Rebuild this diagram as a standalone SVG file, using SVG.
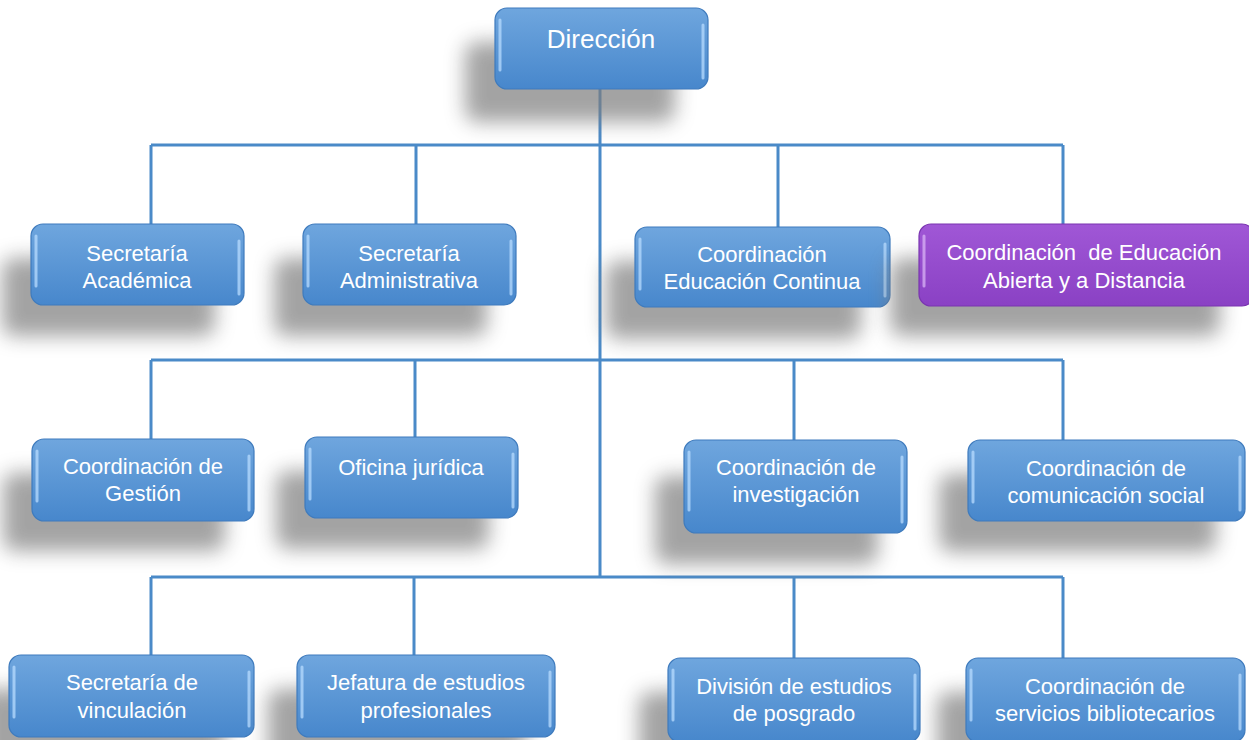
<svg xmlns="http://www.w3.org/2000/svg" width="1249" height="740" viewBox="0 0 1249 740">
<defs>
<linearGradient id="gb" x1="0" y1="0" x2="0" y2="1">
<stop offset="0" stop-color="#6fa6de"/><stop offset="1" stop-color="#4787cc"/>
</linearGradient>
<linearGradient id="gp" x1="0" y1="0" x2="0" y2="1">
<stop offset="0" stop-color="#a057d6"/><stop offset="1" stop-color="#8a41c4"/>
</linearGradient>
<filter id="sh" x="-30%" y="-50%" width="160%" height="200%">
<feGaussianBlur stdDeviation="10"/>
</filter>
<style>
.box{stroke:#3f7bbd;stroke-width:1.2}
.boxp{stroke:#7a35b0;stroke-width:1.2}
.shadow{fill:#7d7d7d;opacity:0.7;filter:url(#sh)}
.hl{stroke:#b8dcff;stroke-width:3;stroke-linecap:round;opacity:0.75}
.t{font-family:"Liberation Sans",Arial,sans-serif;font-size:22px;fill:#ffffff;text-anchor:middle;white-space:pre}
.conn{stroke:#4a8ac8;stroke-width:3;fill:none}
</style>
</defs>
<rect width="1249" height="740" fill="#ffffff"/>

<g id="connectors">
<path class="conn" d="M600 89V577"/>
<path class="conn" d="M151 145H1063M151 145V224M416 145V224M778 145V227M1063 145V224"/>
<path class="conn" d="M151 360H1063M151 360V439M415 360V437M794 360V440M1063 360V440"/>
<path class="conn" d="M151 577H1063M151 577V655M414 577V655M794 577V658M1063 577V658"/>
</g>

<g id="n-direccion">
<rect class="shadow" x="465" y="42" width="210" height="80" rx="12"/>
<rect class="box" x="495" y="8" width="213" height="81" rx="12" fill="url(#gb)"/>
<path class="hl" d="M500 20V70M703 25V78"/>
<text class="t" x="601" y="48" style="font-size:26px">Dirección</text>
</g>

<g id="n-sec-academica">
<rect class="shadow" x="2" y="258" width="213" height="78" rx="12"/>
<rect class="box" x="31" y="224" width="213" height="81" rx="12" fill="url(#gb)"/>
<path class="hl" d="M36 236V286M239 241V294"/>
<text class="t" x="137" y="261">Secretaría</text>
<text class="t" x="137" y="288">Académica</text>
</g>

<g id="n-sec-administrativa">
<rect class="shadow" x="274" y="258" width="213" height="78" rx="12"/>
<rect class="box" x="303" y="224" width="213" height="81" rx="12" fill="url(#gb)"/>
<path class="hl" d="M308 236V286M511 241V294"/>
<text class="t" x="409" y="261">Secretaría</text>
<text class="t" x="409" y="288">Administrativa</text>
</g>

<g id="n-educ-continua">
<rect class="shadow" x="606" y="261" width="255" height="78" rx="12"/>
<rect class="box" x="635" y="227" width="255" height="80" rx="12" fill="url(#gb)"/>
<path class="hl" d="M640 239V289M885 244V296"/>
<text class="t" x="762" y="262">Coordinación</text>
<text class="t" x="762" y="289">Educación Continua</text>
</g>

<g id="n-educ-abierta">
<rect class="shadow" x="890" y="258" width="330" height="78" rx="12"/>
<rect class="boxp" x="919" y="224" width="335" height="82" rx="12" style="fill:url(#gp)"/>
<path class="hl" d="M924 236V286" style="stroke:#d9b3f5"/>
<text class="t" x="1084" y="260" xml:space="preserve">Coordinación  de Educación</text>
<text class="t" x="1084" y="288">Abierta y a Distancia</text>
</g>

<g id="n-gestion">
<rect class="shadow" x="3" y="473" width="222" height="78" rx="12"/>
<rect class="box" x="32" y="439" width="222" height="82" rx="12" fill="url(#gb)"/>
<path class="hl" d="M37 451V501M249 456V510"/>
<text class="t" x="143" y="474">Coordinación de</text>
<text class="t" x="143" y="501">Gestión</text>
</g>

<g id="n-juridica">
<rect class="shadow" x="276" y="471" width="213" height="78" rx="12"/>
<rect class="box" x="305" y="437" width="213" height="81" rx="12" fill="url(#gb)"/>
<path class="hl" d="M310 449V499M513 454V507"/>
<text class="t" x="411" y="475">Oficina jurídica</text>
</g>

<g id="n-investigacion">
<rect class="shadow" x="655" y="476" width="223" height="88" rx="12"/>
<rect class="box" x="684" y="440" width="223" height="93" rx="12" fill="url(#gb)"/>
<path class="hl" d="M689 452V510M902 457V522"/>
<text class="t" x="796" y="475">Coordinación de</text>
<text class="t" x="796" y="502">investigación</text>
</g>

<g id="n-comunicacion">
<rect class="shadow" x="939" y="474" width="277" height="78" rx="12"/>
<rect class="box" x="968" y="440" width="277" height="81" rx="12" fill="url(#gb)"/>
<path class="hl" d="M973 452V502M1240 457V510"/>
<text class="t" x="1106" y="476">Coordinación de</text>
<text class="t" x="1106" y="503">comunicación social</text>
</g>

<g id="n-vinculacion">
<rect class="shadow" x="-20" y="689" width="245" height="78" rx="12"/>
<rect class="box" x="9" y="655" width="245" height="82" rx="12" fill="url(#gb)"/>
<path class="hl" d="M14 667V717M249 672V726"/>
<text class="t" x="132" y="690">Secretaría de</text>
<text class="t" x="132" y="718">vinculación</text>
</g>

<g id="n-jefatura">
<rect class="shadow" x="268" y="689" width="258" height="78" rx="12"/>
<rect class="box" x="297" y="655" width="258" height="82" rx="12" fill="url(#gb)"/>
<path class="hl" d="M302 667V717M550 672V726"/>
<text class="t" x="426" y="690">Jefatura de estudios</text>
<text class="t" x="426" y="718">profesionales</text>
</g>

<g id="n-posgrado">
<rect class="shadow" x="639" y="692" width="252" height="78" rx="12"/>
<rect class="box" x="668" y="658" width="252" height="84" rx="12" fill="url(#gb)"/>
<path class="hl" d="M673 670V720M915 675V729"/>
<text class="t" x="794" y="694">División de estudios</text>
<text class="t" x="794" y="721">de posgrado</text>
</g>

<g id="n-bibliotecarios">
<rect class="shadow" x="937" y="692" width="279" height="78" rx="12"/>
<rect class="box" x="966" y="658" width="279" height="84" rx="12" fill="url(#gb)"/>
<path class="hl" d="M971 670V720M1240 675V729"/>
<text class="t" x="1105" y="694">Coordinación de</text>
<text class="t" x="1105" y="721">servicios bibliotecarios</text>
</g>
</svg>
